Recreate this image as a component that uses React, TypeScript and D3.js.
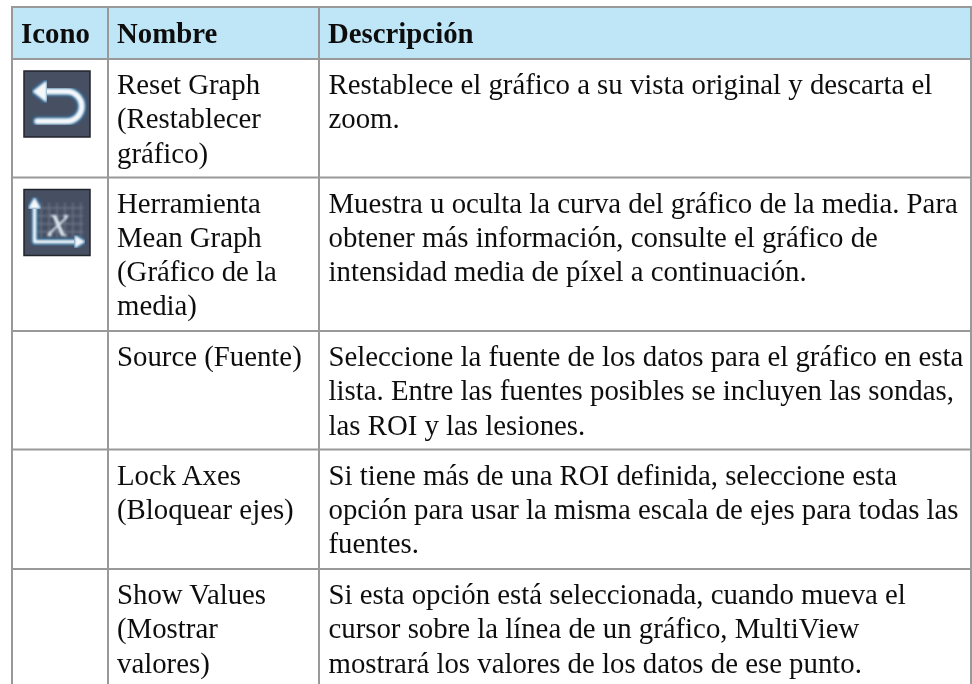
import * as React from "react";
import * as d3 from "d3";

const headers: string[] = ["Icono", "Nombre", "Descripción"];
const names: string[][] = [
    ["Reset Graph", "(Restablecer", "gráfico)"],
    ["Herramienta", "Mean Graph", "(Gráfico de la", "media)"],
    ["Source (Fuente)"],
    ["Lock Axes", "(Bloquear ejes)"],
    ["Show Values", "(Mostrar", "valores)"]
];
const descriptions: string[][] = [
    ["Restablece el gráfico a su vista original y descarta el", "zoom."],
    ["Muestra u oculta la curva del gráfico de la media. Para", "obtener más información, consulte el gráfico de", "intensidad media de píxel a continuación."],
    ["Seleccione la fuente de los datos para el gráfico en esta", "lista. Entre las fuentes posibles se incluyen las sondas,", "las ROI y las lesiones."],
    ["Si tiene más de una ROI definida, seleccione esta", "opción para usar la misma escala de ejes para todas las", "fuentes."],
    ["Si esta opción está seleccionada, cuando mueva el", "cursor sobre la línea de un gráfico, MultiView", "mostrará los valores de los datos de ese punto."]
];
const icons: (string | null)[] = ["reset", "mean", null, null, null];

const columnEdges: number[] = [12, 108, 319, 971];
const rowEdges: number[] = [7, 59, 177.5, 331, 449.5, 569, 690];

const fontFamily: string = "'Liberation Serif', 'Times New Roman', serif";
const fontSize: number = 28.8;
const lineStep: number = 34.1;
const borderColor: string = "#999999";
const headerColor: string = "#BFE6F6";
const iconSize: number = 66;

export default function App(): JSX.Element {
    const ref = React.useRef<SVGSVGElement>(null);

    React.useEffect(() => {
        const svg = d3.select(ref.current);
        svg.selectAll("*").remove();

        const defs = svg.append("defs");
        defs.append("filter").attr("id", "soft")
            .append("feGaussianBlur").attr("stdDeviation", 0.35);
        defs.append("filter").attr("id", "iconBlur")
            .append("feGaussianBlur").attr("stdDeviation", 0.8);
        defs.append("filter").attr("id", "iconGlow")
            .append("feGaussianBlur").attr("stdDeviation", 1.6);

        svg.append("rect").attr("width", 972).attr("height", 684).attr("fill", "white");
        svg.append("rect")
            .attr("x", columnEdges[0])
            .attr("y", rowEdges[0])
            .attr("width", columnEdges[3] - columnEdges[0])
            .attr("height", rowEdges[1] - rowEdges[0])
            .attr("fill", headerColor);

        const lines = svg.append("g").attr("stroke", borderColor).attr("stroke-width", 2);
        lines.selectAll("line.v").data(columnEdges).enter().append("line")
            .attr("class", "v")
            .attr("x1", (d: number) => d).attr("x2", (d: number) => d)
            .attr("y1", rowEdges[0] - 1).attr("y2", 684);
        lines.selectAll("line.h").data(rowEdges.slice(0, 6)).enter().append("line")
            .attr("class", "h")
            .attr("x1", columnEdges[0] - 1).attr("x2", columnEdges[3] + 1)
            .attr("y1", (d: number) => d).attr("y2", (d: number) => d);

        const text = svg.append("g")
            .attr("font-family", fontFamily)
            .attr("font-size", fontSize)
            .attr("fill", "#111")
            .attr("filter", "url(#soft)");

        text.selectAll("text.head").data(headers).enter().append("text")
            .attr("class", "head")
            .attr("x", (_: string, i: number) => columnEdges[i] + (i === 0 ? 9 : 9))
            .attr("y", 43)
            .attr("font-weight", "bold")
            .text((d: string) => d);

        const addCell = (cell: string[], x: number, row: number): void => {
            const top = rowEdges[row + 1];
            cell.forEach((s: string, i: number) => {
                text.append("text")
                    .attr("x", x)
                    .attr("y", top + 35.3 + i * lineStep)
                    .text(s);
            });
        };
        names.forEach((cell: string[], i: number) => addCell(cell, columnEdges[1] + 9, i));
        descriptions.forEach((cell: string[], i: number) => addCell(cell, columnEdges[2] + 9.5, i));

        icons.forEach((icon: string | null, i: number) => {
            if (icon === null) {
                return;
            }
            const g = svg.append("g")
                .attr("transform", `translate(24, ${rowEdges[i + 1] + 12})`);
            const u = d3.scaleLinear().domain([0, 100]).range([0, iconSize]);
            g.append("rect")
                .attr("width", iconSize).attr("height", iconSize)
                .attr("fill", "#474F63").attr("stroke", "#22252b").attr("stroke-width", 1.5);
            const path = (pts: [number, number][], curve: d3.CurveFactory): string =>
                (d3.line().x((p) => u(p[0])).y((p) => u(p[1])).curve(curve) as any)(pts);
            const stroke = (d: string, w: number, filled: boolean): void => {
                g.append("path").attr("d", d)
                    .attr("fill", filled ? "#2F6E9C" : "none")
                    .attr("stroke", "#2F6E9C").attr("stroke-width", w + 3)
                    .attr("stroke-linecap", "round").attr("stroke-linejoin", "round")
                    .attr("filter", "url(#iconGlow)");
                g.append("path").attr("d", d)
                    .attr("fill", filled ? "#F4F8FB" : "none")
                    .attr("stroke", "#F4F8FB").attr("stroke-width", w)
                    .attr("stroke-linecap", "round").attr("stroke-linejoin", "round")
                    .attr("filter", "url(#iconBlur)");
            };
            if (icon === "reset") {
                const arc = d3.path();
                arc.moveTo(u(32), u(31));
                arc.lineTo(u(65), u(31));
                arc.arc(u(65), u(53.5), u(22.5), -Math.PI / 2, Math.PI / 2);
                arc.lineTo(u(20), u(76));
                stroke(arc.toString(), 6, false);
                stroke(path([[15, 31], [33, 17], [33, 45]], d3.curveLinearClosed), 2, true);
            } else {
                const grid = g.append("g").attr("stroke", "#7d8697").attr("stroke-width", 1.4).attr("opacity", 0.7).attr("filter", "url(#iconBlur)");
                [26, 38, 50, 62, 74, 86].forEach((v: number) => {
                    grid.append("line").attr("x1", u(v)).attr("x2", u(v)).attr("y1", u(20)).attr("y2", u(74));
                });
                [28, 40, 52, 64].forEach((v: number) => {
                    grid.append("line").attr("x1", u(16)).attr("x2", u(90)).attr("y1", u(v)).attr("y2", u(v));
                });
                stroke(path([[16, 28], [16, 79], [78, 79]], d3.curveLinear), 3.5, false);
                stroke(path([[16, 14], [8, 28], [24, 28]], d3.curveLinearClosed), 1.5, true);
                stroke(path([[91, 79], [78, 71], [78, 87]], d3.curveLinearClosed), 1.5, true);
                g.append("line").attr("x1", u(36)).attr("x2", u(72)).attr("y1", u(28)).attr("y2", u(28))
                    .attr("stroke", "#cfe0ea").attr("stroke-width", 3).attr("filter", "url(#iconBlur)");
                g.append("text")
                    .attr("x", u(52)).attr("y", u(70))
                    .attr("text-anchor", "middle")
                    .attr("font-family", fontFamily)
                    .attr("font-style", "italic")
                    .attr("font-size", 46)
                    .attr("fill", "#DCE8F0")
                    .attr("filter", "url(#iconBlur)")
                    .text("x");
            }
        });
    }, []);

    return <svg ref={ref} width={972} height={684} style={{ position: "absolute", left: 0, top: 0 }} />;
}
